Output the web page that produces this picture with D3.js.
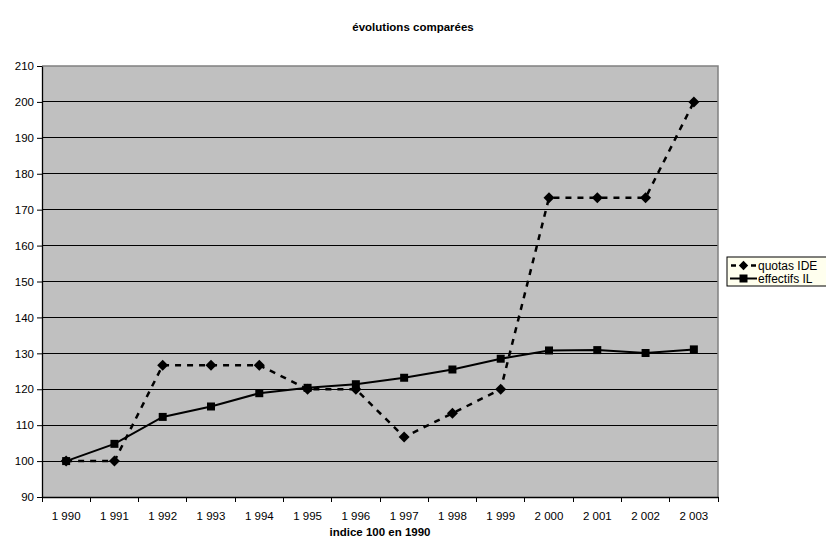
<!DOCTYPE html>
<html><head><meta charset="utf-8">
<script src="https://cdn.jsdelivr.net/npm/d3@7"></script>
<style>
body{margin:0;background:#fff;}
text{font-family:"Liberation Sans",Arial,sans-serif;}
</style></head>
<body><svg id="c" width="826" height="544"></svg>
<script>
const years = ["1 990","1 991","1 992","1 993","1 994","1 995","1 996","1 997","1 998","1 999","2 000","2 001","2 002","2 003"];
const quotasIDE = [100,100,126.7,126.7,126.7,120,120,106.7,113.3,120,173.3,173.3,173.3,200];
const effectifsIL = [100,104.8,112.3,115.2,118.9,120.4,121.4,123.2,125.5,128.5,130.8,130.9,130.1,131.1];
const yTicks = [90,100,110,120,130,140,150,160,170,180,190,200,210];
const seriesNames = ["quotas IDE","effectifs IL"];
const title = "évolutions comparées";
const xTitle = "indice 100 en 1990";

const svg = d3.select("#c");
const L=42,R=718,T=66,B=497;
const x = d3.scaleBand().domain(years).range([L,R]);
const y = d3.scaleLinear().domain([90,210]).range([B,T]);

svg.append("rect").attr("x",L).attr("y",T).attr("width",R-L).attr("height",B-T).attr("fill","#c0c0c0");
svg.append("g").selectAll("line").data(yTicks.slice(1,-1)).join("line")
  .attr("x1",L).attr("x2",R).attr("y1",d=>y(d)).attr("y2",d=>y(d))
  .attr("stroke","#000").attr("stroke-width",1).attr("shape-rendering","crispEdges");
svg.append("path").attr("d",`M${L},${T}H${R}V${B}`).attr("fill","none").attr("stroke","#808080").attr("stroke-width",1.5);

const yAxis = svg.append("g").attr("transform",`translate(${L},0)`)
  .call(d3.axisLeft(y).tickValues(yTicks).tickSize(5).tickSizeOuter(0).tickPadding(3));
const xAxis = svg.append("g").attr("transform",`translate(0,${B})`)
  .call(d3.axisBottom(x).tickSize(0).tickPadding(15));
svg.append("g").selectAll("line").data(years.concat(["end"])).join("line")
  .attr("x1",(d,i)=>L+i*x.step()).attr("x2",(d,i)=>L+i*x.step())
  .attr("y1",B).attr("y2",B+5).attr("stroke","#000").attr("shape-rendering","crispEdges");
[yAxis,xAxis].forEach(g=>{
  g.selectAll("text").attr("font-size",11.5).attr("fill","#000").attr("font-family","Liberation Sans, Arial, sans-serif");
  g.select(".domain").attr("stroke","#000").attr("stroke-width",1.3);
  g.selectAll(".tick line").attr("stroke","#000");
});

const cx = d=>x(d)+x.bandwidth()/2;
const line = d3.line().x((d,i)=>cx(years[i])).y(d=>y(d));

svg.append("path").datum(quotasIDE).attr("d",line).attr("fill","none")
  .attr("stroke","#000").attr("stroke-width",2.5).attr("stroke-dasharray","6,6");
svg.append("path").datum(effectifsIL).attr("d",line).attr("fill","none")
  .attr("stroke","#000").attr("stroke-width",2);

const diamond = "M0,-5.5L5.5,0L0,5.5L-5.5,0Z";
const square = "M-4,-4H4V4H-4Z";
svg.append("g").selectAll("path").data(quotasIDE).join("path")
  .attr("d",diamond).attr("transform",(d,i)=>`translate(${cx(years[i])},${y(d)})`).attr("fill","#000");
svg.append("g").selectAll("path").data(effectifsIL).join("path")
  .attr("d",square).attr("transform",(d,i)=>`translate(${cx(years[i])},${y(d)})`).attr("fill","#000");

svg.append("text").attr("x",413).attr("y",31).attr("text-anchor","middle")
  .attr("font-size",11.5).attr("font-weight","bold").text(title);
svg.append("text").attr("x",(L+R)/2).attr("y",536).attr("text-anchor","middle")
  .attr("font-size",11.5).attr("font-weight","bold").text(xTitle);

const lg = svg.append("g").attr("transform","translate(727,257)");
lg.append("rect").attr("x",0).attr("y",0).attr("width",100).attr("height",29)
  .attr("fill","#ffffee").attr("stroke","#000").attr("stroke-width",1);
lg.append("line").attr("x1",3).attr("x2",30).attr("y1",8.5).attr("y2",8.5)
  .attr("stroke","#000").attr("stroke-width",2.5).attr("stroke-dasharray","5,5").attr("stroke-dashoffset",-1);
lg.append("path").attr("d",diamond).attr("transform","translate(16.5,8.5) scale(0.85)");
lg.append("line").attr("x1",3).attr("x2",30).attr("y1",21.5).attr("y2",21.5)
  .attr("stroke","#000").attr("stroke-width",2);
lg.append("path").attr("d",square).attr("transform","translate(16.5,21.5)");
lg.selectAll("text.l").data(seriesNames).join("text").attr("class","l")
  .attr("x",31).attr("y",(d,i)=>12.5+i*13).attr("font-size",12).text(d=>d);
</script></body></html>
